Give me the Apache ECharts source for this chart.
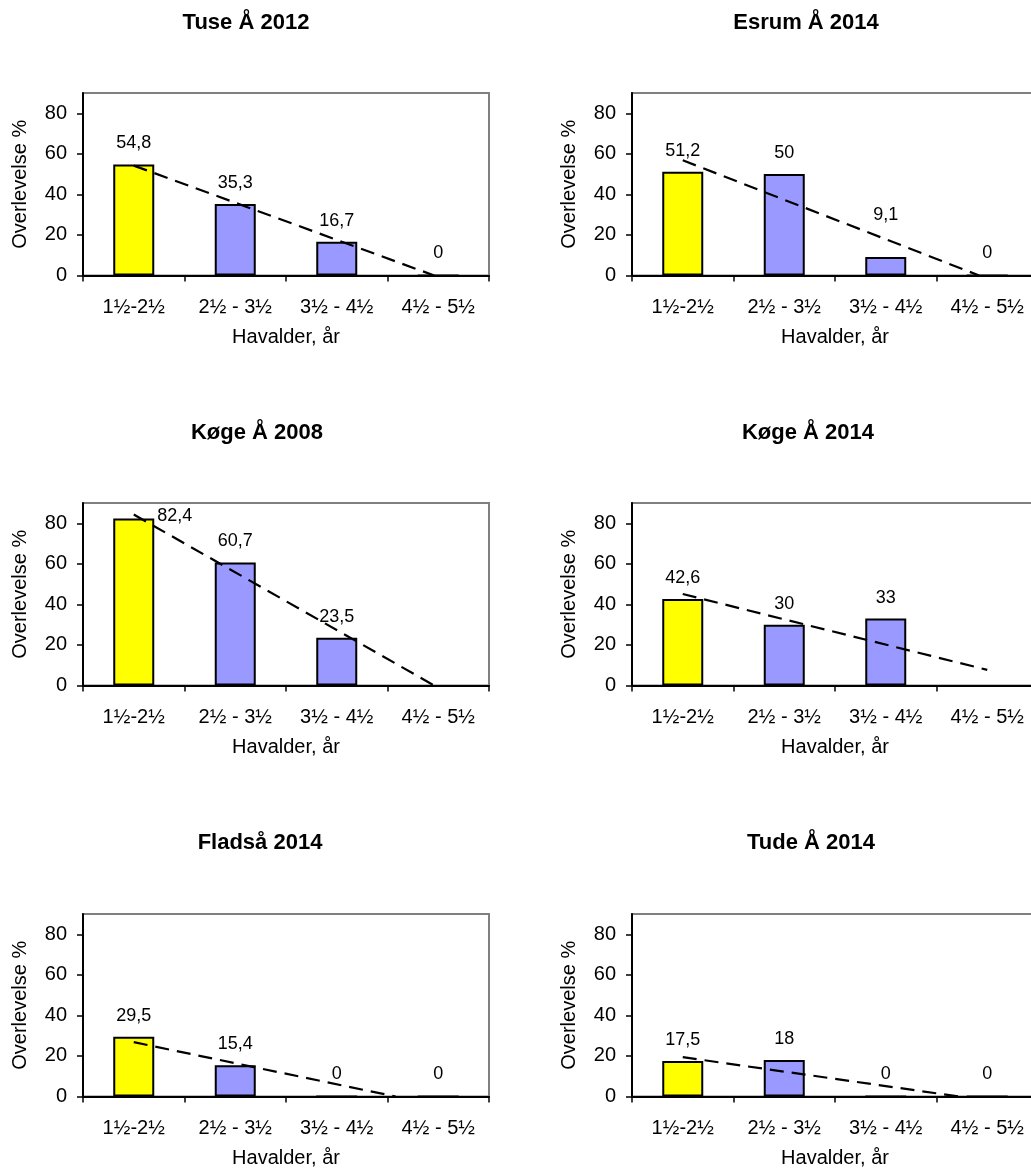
<!DOCTYPE html>
<html>
<head>
<meta charset="utf-8">
<script src="https://cdn.jsdelivr.net/npm/echarts@6/dist/echarts.min.js"></script>
<style>
html,body{margin:0;padding:0;background:#fff;overflow:hidden;}
#chart{width:1045px;height:1175px;}
</style>
</head>
<body>
<div id="chart"></div>
<script>
// ---- data ----
const categories = ['1½-2½', '2½ - 3½', '3½ - 4½', '4½ - 5½'];
const yTicks = [0, 20, 40, 60, 80];
const chartTitles = ['Tuse Å 2012', 'Esrum Å 2014', 'Køge Å 2008', 'Køge Å 2014', 'Fladså 2014', 'Tude Å 2014'];
const tuse2012 = [54.8, 35.3, 16.7, 0];
const esrum2014 = [51.2, 50, 9.1, 0];
const koge2008 = [82.4, 60.7, 23.5, null];
const koge2014 = [42.6, 30, 33, null];
const fladsa2014 = [29.5, 15.4, 0, 0];
const tude2014 = [17.5, 18, 0, 0];
// dashed linear trend lines: [category position, value] start and end
const tuseTrend = [[1, 54.2], [3.96, 0]];
const esrumTrend = [[1, 56.8], [3.92, 0]];
const koge2008Trend = [[1, 84.3], [3.96, 0]];
const koge2014Trend = [[1, 45.1], [4, 7.7]];
const fladsaTrend = [[1, 26.8], [3.58, 0]];
const tudeTrend = [[1, 19.4], [3.72, 0]];

const seriesValues = [tuse2012, esrum2014, koge2008, koge2014, fladsa2014, tude2014];
const trendLines = [tuseTrend, esrumTrend, koge2008Trend, koge2014Trend, fladsaTrend, tudeTrend];

// ---- layout / style ----
const FONT = 'Arial, "Liberation Sans", sans-serif';
const lefts = [83, 632];
const tops = [93, 503, 914];
const titleX = [246, 806, 257, 808, 260, 811];
const titleY = [12, 422, 832];
const GW = 406, GH = 182.5;
const YELLOW = '#FFFF00', BLUE = '#9999FF';
// per-chart label position tweaks (as in the reference)
const labelTweaks = { '2-0': [41, 19], '1-2': [0, -21] };

const grids = [], xAxes = [], yAxes = [], series = [], titles = [];
for (let i = 0; i < 6; i++) {
  const col = i % 2, row = Math.floor(i / 2);
  grids.push({
    left: lefts[col], top: tops[row], width: GW, height: GH,
    show: true, borderColor: '#808080', borderWidth: 2, backgroundColor: 'transparent'
  });
  titles.push({
    text: chartTitles[i], left: titleX[i], top: titleY[row], textAlign: 'center', padding: 0,
    textStyle: { fontFamily: FONT, fontSize: 22, fontWeight: 'bold', color: '#000' }
  });
  xAxes.push({
    type: 'category', gridIndex: i, data: categories,
    axisLine: { show: true, lineStyle: { color: '#000', width: 2 } },
    axisTick: { show: true, length: 6, lineStyle: { color: '#000', width: 1.5 } },
    axisLabel: { fontFamily: FONT, fontSize: 20, color: '#000', margin: 22, interval: 0 },
    splitLine: { show: false },
    name: 'Havalder, år', nameLocation: 'middle', nameGap: 52,
    nameTextStyle: { fontFamily: FONT, fontSize: 20, color: '#000' }
  });
  xAxes.push({
    type: 'value', gridIndex: i, min: 0.5, max: 4.5, show: false
  });
  yAxes.push({
    type: 'value', gridIndex: i, min: 0, max: 90,
    axisLine: { show: true, lineStyle: { color: '#000', width: 2 } },
    axisTick: { show: true, length: 6, lineStyle: { color: '#000', width: 1.5 }, customValues: yTicks },
    axisLabel: { fontFamily: FONT, fontSize: 20, color: '#000', margin: 16, customValues: yTicks },
    splitLine: { show: false },
    name: 'Overlevelse %', nameLocation: 'middle', nameGap: 53, nameRotate: 90,
    nameTextStyle: { fontFamily: FONT, fontSize: 20, color: '#000' }
  });
  series.push({
    type: 'bar', xAxisIndex: 2 * i, yAxisIndex: i, barWidth: 41, animation: false,
    data: seriesValues[i].map((v, j) => {
      const item = {
        value: v,
        itemStyle: { color: j === 0 ? YELLOW : BLUE, borderColor: '#000', borderWidth: 2 }
      };
      const tw = labelTweaks[i + '-' + j];
      if (tw) item.label = { offset: tw };
      return item;
    }),
    label: {
      show: true, position: 'top', distance: 12,
      fontFamily: FONT, fontSize: 18, color: '#000',
      formatter: p => (p.value === null || p.value === undefined) ? '' : String(p.value).replace('.', ',')
    },
    z: 2
  });
  series.push({
    type: 'line', xAxisIndex: 2 * i + 1, yAxisIndex: i, data: trendLines[i],
    showSymbol: false, symbol: 'none', animation: false, silent: true,
    lineStyle: { color: '#000', width: 2.2, type: [14, 8] }, z: 3
  });
}

const chart = echarts.init(document.getElementById('chart'), null, { renderer: 'canvas' });
chart.setOption({
  animation: false,
  backgroundColor: '#fff',
  title: titles,
  grid: grids,
  xAxis: xAxes,
  yAxis: yAxes,
  series: series
});
</script>
</body>
</html>
